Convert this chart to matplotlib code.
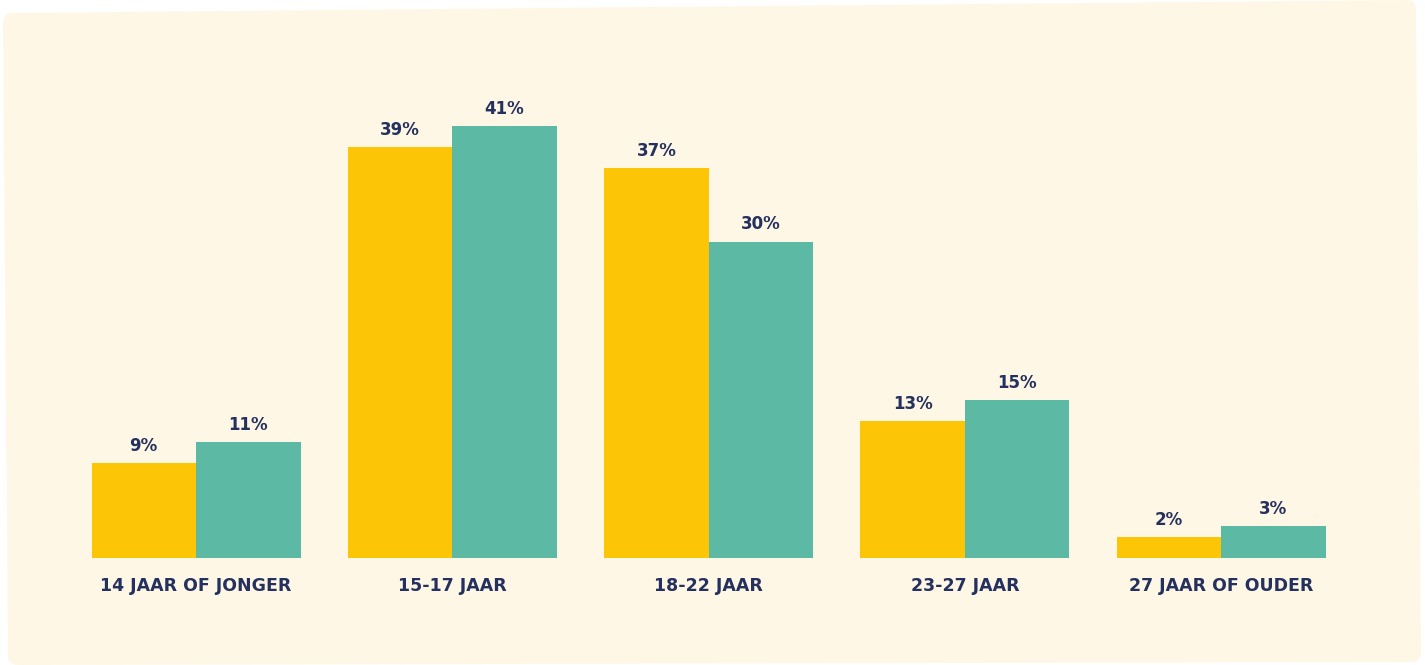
import matplotlib
matplotlib.use("Agg")
import matplotlib.pyplot as plt
from matplotlib.patches import Polygon
import numpy as np

categories = ["14 JAAR OF JONGER", "15-17 JAAR", "18-22 JAAR", "23-27 JAAR", "27 JAAR OF OUDER"]
series_a = [9, 39, 37, 13, 2]
series_b = [11, 41, 30, 15, 3]

YELLOW = "#FCC506"
TEAL = "#5CB9A3"
NAVY = "#24305E"
CREAM = "#FFF7E5"

W, H = 1425, 665
fig = plt.figure(figsize=(W / 100, H / 100), dpi=100)
fig.patch.set_facecolor("white")

# skewed cream panel with rounded corners (inset polygon + thick round-joined edge)
r = 9
pts = [(3 + r, H - 13 - r), (1416 - r, H - 0 - r), (1421 - r, H - 662 + r), (8 + r, H - 665 + r)]
pts = [(x / W, y / H) for x, y in pts]
panel = Polygon(pts, closed=True, transform=fig.transFigure, facecolor=CREAM,
                edgecolor=CREAM, linewidth=2 * r * 72 / 100, joinstyle="round", zorder=-5)
fig.patches.append(panel)

pitch = 256.3
left_px = 196 - 0.5 * pitch
base_px = 558
ppu = 10.54
ymax = 45
ax = fig.add_axes([left_px / W, (H - base_px) / H, 5 * pitch / W, ymax * ppu / H])
ax.set_facecolor("none")
ax.set_zorder(2)

x = np.arange(len(categories))
bw = 104.5 / pitch
ax.bar(x - bw / 2, series_a, width=bw, color=YELLOW, zorder=2)
ax.bar(x + bw / 2, series_b, width=bw, color=TEAL, zorder=2)

font = "DejaVu Sans"
for xi, a, b in zip(x, series_a, series_b):
    ax.annotate(f"{a}%", (xi - bw / 2, a), xytext=(0, 6), textcoords="offset points",
                ha="center", va="bottom", fontsize=12, fontweight="bold", color=NAVY, family=font)
    ax.annotate(f"{b}%", (xi + bw / 2, b), xytext=(0, 6), textcoords="offset points",
                ha="center", va="bottom", fontsize=12, fontweight="bold", color=NAVY, family=font)

ax.set_xlim(-0.5, len(categories) - 0.5)
ax.set_ylim(0, ymax)
ax.set_xticks(x)
ax.set_xticklabels(categories, fontsize=12.5, fontweight="bold", color=NAVY, family=font)
ax.tick_params(axis="x", length=0, pad=13.5)
ax.set_yticks([])
for s in ax.spines.values():
    s.set_visible(False)

fig.savefig("out.png", dpi=100, facecolor=fig.get_facecolor())
